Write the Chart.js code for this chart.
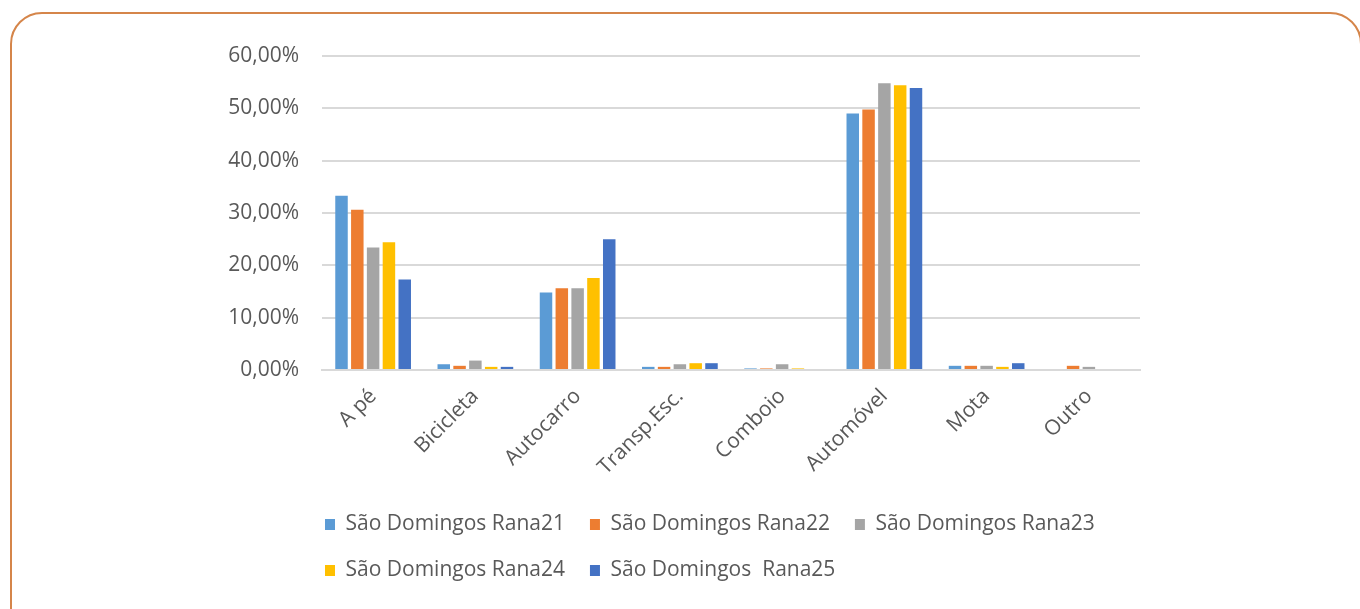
<!DOCTYPE html>
<html>
<head>
<meta charset="utf-8">
<script src="https://cdn.jsdelivr.net/npm/chart.js@4/dist/chart.umd.min.js"></script>
<style>
  html, body { margin: 0; padding: 0; background: #fff; overflow: hidden; }
  #frame {
    position: absolute; left: 10px; top: 12px; width: 1352px; height: 660px;
    border: 2px solid #D5854A; border-radius: 32px; box-sizing: border-box;
  }
  #wrap { position: absolute; left: 0; top: 0; width: 1360px; height: 609px; }
</style>
</head>
<body>
<div id="frame"></div>
<div id="wrap"><canvas id="grafico"></canvas></div>
<script>
// Categorias (modo de transporte)
const categorias = ['A pé', 'Bicicleta', 'Autocarro', 'Transp.Esc.', 'Comboio', 'Automóvel', 'Mota', 'Outro'];

// Percentagens por ano letivo
const rana21 = [33.3, 1.1, 14.8, 0.6, 0.3, 49.0, 0.8, 0];
const rana22 = [30.6, 0.8, 15.6, 0.6, 0.3, 49.8, 0.8, 0.8];
const rana23 = [23.4, 1.8, 15.6, 1.1, 1.1, 54.8, 0.8, 0.6];
const rana24 = [24.4, 0.6, 17.6, 1.3, 0.3, 54.4, 0.6, 0];
const rana25 = [17.3, 0.6, 25.0, 1.3, 0, 53.9, 1.3, 0];

const series = [
    { nome: 'São Domingos Rana21', dados: rana21, cor: '#5B9BD5' },
    { nome: 'São Domingos Rana22', dados: rana22, cor: '#ED7D31' },
    { nome: 'São Domingos Rana23', dados: rana23, cor: '#A5A5A5' },
    { nome: 'São Domingos Rana24', dados: rana24, cor: '#FFC000' },
    { nome: 'São Domingos  Rana25', dados: rana25, cor: '#4472C4' }
];

// Marcas do eixo Y
const yMax = 60;
const yPasso = 10;

const fonte = { family: '"Open Sans", sans-serif', size: 21 };
const corTexto = '#595959';

new Chart(document.getElementById('grafico'), {
    type: 'bar',
    data: {
        labels: categorias,
        datasets: series.map(s => ({
            label: s.nome,
            data: s.dados,
            backgroundColor: s.cor,
            borderWidth: 0,
            categoryPercentage: 0.773,
            barPercentage: 0.79
        }))
    },
    options: {
        responsive: true,
        maintainAspectRatio: false,
        animation: false,
        layout: { padding: { left: 300, right: 220, top: 56, bottom: 18 } },
        plugins: {
            legend: {
                position: 'bottom',
                align: 'start',
                labels: {
                    boxWidth: 10,
                    boxHeight: 11,
                    padding: 25,
                    color: corTexto,
                    font: fonte
                }
            },
            tooltip: { enabled: false }
        },
        scales: {
            x: {
                grid: { display: false },
                border: { display: true, color: '#D9D9D9', width: 2 },
                ticks: {
                    color: corTexto,
                    font: fonte,
                    minRotation: 45,
                    maxRotation: 45,
                    padding: 6
                },
                afterFit: (scale) => { scale.height = 119; }
            },
            y: {
                min: 0,
                max: yMax,
                border: { display: false },
                grid: { color: '#D9D9D9', lineWidth: 2, drawTicks: false },
                ticks: {
                    stepSize: yPasso,
                    color: corTexto,
                    font: fonte,
                    padding: 23,
                    callback: (v) => v.toFixed(2).replace('.', ',') + '%'
                },
                // eixo estreito; os rótulos desenham-se à esquerda sem recorte
                afterFit: (scale) => {
                    scale.width = 22;
                    scale._computeLabelArea = () => undefined;
                }
            }
        }
    }
});
</script>
</body>
</html>
